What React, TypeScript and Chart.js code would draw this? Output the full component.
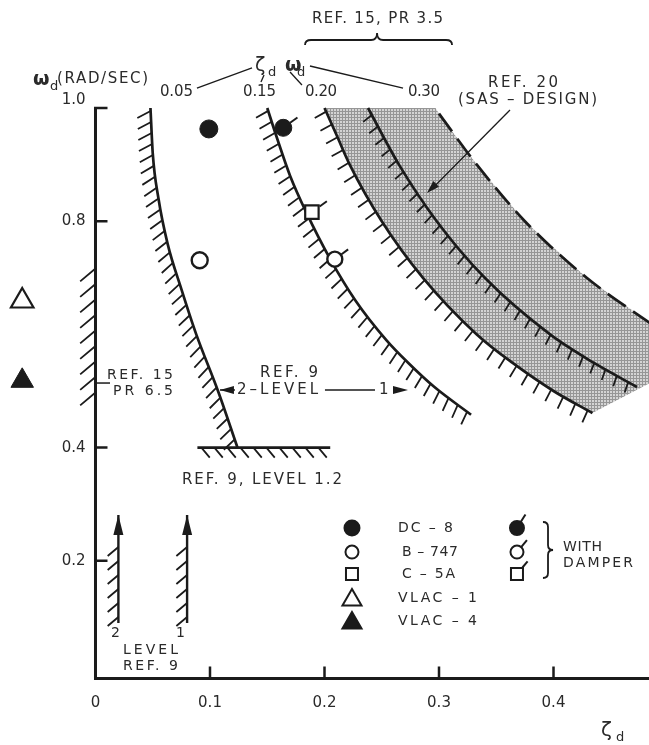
import React, { useEffect, useRef } from 'react';
import { Chart, registerables } from 'chart.js';

Chart.register(...registerables);

// ---------------- axes (ζd horizontal, ωd vertical) ----------------
const X_MIN = -0.0834;
const X_MAX = 0.4834;
const Y_MIN = -0.1254;
const Y_MAX = 1.1908;
const X_AXIS_AT = -0.008;

const xTickValues = [0, 0.1, 0.2, 0.3, 0.4];
const xTickLabels = ['0', '0.1', '0.2', '0.3', '0.4'];
const yTickValues = [1.0, 0.8, 0.4, 0.2];
const yTickLabels = ['1.0', '0.8', '0.4', '0.2'];

// ---------------- boundaries (ζd , ωd) ----------------
// Ref. 9, level 2 boundary (ζd·ωd ≈ 0.05)
const level2Zeta = [0.048, 0.050, 0.055, 0.063, 0.075, 0.088, 0.107, 0.124];
const level2Omega = [1.0, 0.92, 0.84, 0.76, 0.68, 0.60, 0.50, 0.40];
// Ref. 9, level 1 boundary (ζd·ωd ≈ 0.15)
const level1Zeta = [0.150, 0.158, 0.170, 0.184, 0.205, 0.227, 0.254, 0.273, 0.296, 0.328];
const level1Omega = [1.0, 0.95, 0.88, 0.816, 0.733, 0.66, 0.59, 0.55, 0.507, 0.458];
// Ref. 15, PR 3.5 lower boundary (ζd·ωd ≈ 0.20)
const ref15Zeta = [0.200, 0.211, 0.222, 0.250, 0.286, 0.333, 0.364, 0.400, 0.434];
const ref15Omega = [1.0, 0.95, 0.9, 0.8, 0.7, 0.6, 0.55, 0.5, 0.461];
// Ref. 20 SAS design line
const sasZeta = [0.238, 0.265, 0.298, 0.340, 0.397, 0.435, 0.473];
const sasOmega = [1.0, 0.9, 0.8, 0.7, 0.6, 0.55, 0.507];
// Ref. 15 upper (dashed, ζd·ωd ≈ 0.30)
const upperZeta = [0.300, 0.333, 0.375, 0.429, 0.490];
const upperOmega = [0.99, 0.9, 0.8, 0.7, 0.612];
// shaded band outline
const bandZeta = [...ref15Zeta, 0.490, 0.490, 0.429, 0.375, 0.333, 0.300, 0.297];
const bandOmega = [...ref15Omega, 0.520, 0.612, 0.7, 0.8, 0.9, 0.99, 1.0];
// Ref. 9, level 1.2 floor
const floorZeta = [0.089, 0.205];
const floorOmega = [0.4, 0.4];
// Ref. 9 level bars at the bottom
const bar2Zeta = [0.02, 0.02];
const bar1Zeta = [0.08, 0.08];
const barOmega = [0.281, 0.09];
// Ref. 15, PR 6.5 (ζd = 0)
const pr65Zeta = [0, 0];
const pr65Omega = [0.72, 0.475];

// ---------------- aircraft ----------------
const dc8Zeta = [0.099];
const dc8Omega = [0.963];
const dc8DamperZeta = [0.164];
const dc8DamperOmega = [0.965];
const b747Zeta = [0.091];
const b747Omega = [0.731];
const b747DamperZeta = [0.209];
const b747DamperOmega = [0.733];
const c5aDamperZeta = [0.189];
const c5aDamperOmega = [0.816];
const vlac1Zeta = [-0.064];
const vlac1Omega = [0.659];
const vlac4Zeta = [-0.064];
const vlac4Omega = [0.518];

const legendNames = ['DC – 8', 'B – 747', 'C – 5A', 'VLAC – 1', 'VLAC – 4'];

const INK = '#1b1b1b';
const TEXT = '#2a2a2a';
const FONT = '"DejaVu Sans", "Liberation Sans", sans-serif';

// text annotations in data coordinates (ζd, ωd): left edge, middle line
type Lbl = { t: string; x: number; y: number; size: number; w?: number; bold?: boolean; align?: string };
const labels: Lbl[] = [
  { t: 'REF. 15, PR 3.5', x: 0.1891, y: 1.1572, size: 15, w: 131 },
  { t: 'REF. 20', x: 0.3428, y: 1.0442, size: 15, w: 70 },
  { t: '(SAS – DESIGN)', x: 0.3166, y: 1.0141, size: 15, w: 139 },
  { t: '0.05', x: 0.0563, y: 1.0283, size: 15, w: 33 },
  { t: '0.15', x: 0.1288, y: 1.0283, size: 15, w: 33 },
  { t: '0.20', x: 0.1830, y: 1.0283, size: 15, w: 32 },
  { t: '0.30', x: 0.2729, y: 1.0283, size: 15, w: 32 },
  { t: '(RAD/SEC)', x: -0.0336, y: 1.0512, size: 15, w: 91 },
  { t: 'REF. 9', x: 0.1437, y: 0.5318, size: 15, w: 58 },
  { t: '2–LEVEL', x: 0.1236, y: 0.5018, size: 15, w: 81 },
  { t: '1', x: 0.2476, y: 0.5018, size: 15 },
  { t: 'REF. 9, LEVEL 1.2', x: 0.0755, y: 0.3428, size: 15, w: 160 },
  { t: 'REF. 15', x: 0.0100, y: 0.5283, size: 14, w: 66 },
  { t: 'PR 6.5', x: 0.0153, y: 0.5000, size: 14, w: 60 },
  { t: '2', x: 0.0135, y: 0.0724, size: 14 },
  { t: '1', x: 0.0703, y: 0.0724, size: 14 },
  { t: 'LEVEL', x: 0.0240, y: 0.0424, size: 14, w: 55 },
  { t: 'REF. 9', x: 0.0240, y: 0.0141, size: 14, w: 55 },
  { t: 'WITH', x: 0.4083, y: 0.2244, size: 14, w: 39 },
  { t: 'DAMPER', x: 0.4083, y: 0.1961, size: 14, w: 70 },
  { t: 'ζ', x: 0.1393, y: 1.0742, size: 19 },
  { t: 'd', x: 0.1506, y: 1.0618, size: 13 },
  { t: 'ω', x: 0.1655, y: 1.0742, size: 19, bold: true },
  { t: 'd', x: 0.1760, y: 1.0618, size: 13 },
  { t: 'ω', x: -0.0546, y: 1.0495, size: 19, bold: true },
  { t: 'd', x: -0.0397, y: 1.0371, size: 13 },
  { t: 'ζ', x: 0.4415, y: -0.1007, size: 20 },
  { t: 'd', x: 0.4546, y: -0.1131, size: 13 },
];
const legendX = 0.2240;
const legendTextX = [0.2642, 0.2677, 0.2677, 0.2642, 0.2642];
const legendOmega = [0.2580, 0.2155, 0.1767, 0.1343, 0.0936];
const damperX = 0.3681;

const zip = (xs: number[], ys: number[]) => xs.map((x, i) => ({ x, y: ys[i] }));

type Pt = { x: number; y: number };

function densify(els: any[]): Pt[] {
  const out: Pt[] = [];
  for (let i = 0; i < els.length; i++) {
    const p = els[i];
    if (i === 0) { out.push({ x: p.x, y: p.y }); continue; }
    const a = els[i - 1];
    const ok = Number.isFinite(a.cp2x) && Number.isFinite(p.cp1x);
    const N = 16;
    for (let k = 1; k <= N; k++) {
      const t = k / N, u = 1 - t;
      if (ok) {
        out.push({
          x: u * u * u * a.x + 3 * u * u * t * a.cp2x + 3 * u * t * t * p.cp1x + t * t * t * p.x,
          y: u * u * u * a.y + 3 * u * u * t * a.cp2y + 3 * u * t * t * p.cp1y + t * t * t * p.y,
        });
      } else out.push({ x: a.x + (p.x - a.x) * t, y: a.y + (p.y - a.y) * t });
    }
  }
  return out;
}

function drawHatch(ctx: CanvasRenderingContext2D, pts: Pt[], h: any) {
  const cum = [0];
  for (let i = 1; i < pts.length; i++) cum.push(cum[i - 1] + Math.hypot(pts[i].x - pts[i - 1].x, pts[i].y - pts[i - 1].y));
  const total = cum[cum.length - 1];
  const start = h.start ?? 3;
  const end = total - (h.end ?? 2);
  ctx.save();
  ctx.strokeStyle = INK;
  ctx.lineWidth = h.width ?? 1.8;
  ctx.lineCap = 'butt';
  ctx.beginPath();
  let j = 1;
  for (let s = start; s <= end; s += h.spacing) {
    while (j < cum.length - 1 && cum[j] < s) j++;
    const a = pts[j - 1], b = pts[j];
    const segLen = cum[j] - cum[j - 1] || 1;
    const t = (s - cum[j - 1]) / segLen;
    const px = a.x + (b.x - a.x) * t, py = a.y + (b.y - a.y) * t;
    const dx = (b.x - a.x) / segLen, dy = (b.y - a.y) / segLen;
    const ang = Math.atan2(dx, -dy) - (h.offset * Math.PI) / 180;
    ctx.moveTo(px, py);
    ctx.lineTo(px + h.len * Math.cos(ang), py + h.len * Math.sin(ang));
  }
  ctx.stroke();
  ctx.restore();
}

function arrowHead(ctx: CanvasRenderingContext2D, tx: number, ty: number, fx: number, fy: number, len: number, hw: number) {
  const d = Math.hypot(tx - fx, ty - fy) || 1;
  const ux = (tx - fx) / d, uy = (ty - fy) / d;
  const bx = tx - ux * len, by = ty - uy * len;
  ctx.beginPath();
  ctx.moveTo(tx, ty);
  ctx.lineTo(bx - uy * hw, by + ux * hw);
  ctx.lineTo(bx + uy * hw, by - ux * hw);
  ctx.closePath();
  ctx.fill();
}

function drawText(ctx: CanvasRenderingContext2D, l: Lbl, x: number, y: number) {
  ctx.save();
  ctx.font = `${l.bold ? 'bold ' : ''}${l.size}px ${FONT}`;
  ctx.fillStyle = TEXT;
  ctx.textBaseline = 'middle';
  ctx.textAlign = 'left';
  (ctx as any).letterSpacing = '0px';
  const raw = ctx.measureText(l.t).width;
  let sp = 0;
  if (l.w && l.t.length > 1) sp = (l.w - raw) / (l.t.length - 1);
  (ctx as any).letterSpacing = `${sp}px`;
  const total = raw + sp * (l.t.length - 1);
  let left = x;
  if (l.align === 'center') left = x - total / 2;
  else if (l.align === 'right') left = x - total;
  ctx.fillText(l.t, left, y);
  ctx.restore();
}

function marker(ctx: CanvasRenderingContext2D, kind: string, x: number, y: number, s: number, filled: boolean) {
  ctx.save();
  ctx.strokeStyle = INK;
  ctx.fillStyle = filled ? INK : '#ffffff';
  ctx.lineWidth = 2;
  ctx.beginPath();
  if (kind === 'circle') ctx.arc(x, y, s, 0, Math.PI * 2);
  else if (kind === 'rect') ctx.rect(x - s, y - s, 2 * s, 2 * s);
  else {
    ctx.moveTo(x, y - s);
    ctx.lineTo(x + s * 0.866, y + s * 0.5);
    ctx.lineTo(x - s * 0.866, y + s * 0.5);
    ctx.closePath();
  }
  ctx.fill();
  ctx.stroke();
  ctx.restore();
}

function damperTick(ctx: CanvasRenderingContext2D, x: number, y: number, r: number, deg: number, len: number) {
  const a = (deg * Math.PI) / 180;
  ctx.save();
  ctx.strokeStyle = INK;
  ctx.lineWidth = 2;
  ctx.beginPath();
  ctx.moveTo(x + r * Math.cos(a), y + r * Math.sin(a));
  ctx.lineTo(x + (r + len) * Math.cos(a), y + (r + len) * Math.sin(a));
  ctx.stroke();
  ctx.restore();
}

const decor = {
  id: 'decor',
  afterDatasetDraw(chart: any, args: any) {
    const ds = chart.data.datasets[args.index];
    const ctx: CanvasRenderingContext2D = chart.ctx;
    const els = args.meta.data;
    if (ds.hatch) drawHatch(ctx, densify(els), ds.hatch);
    if (ds.arrowStart && els.length > 1) {
      ctx.save();
      ctx.fillStyle = INK;
      arrowHead(ctx, els[0].x, els[0].y, els[1].x, els[1].y, 20, 5);
      ctx.restore();
    }
    if (ds.damper) {
      for (const e of els) damperTick(ctx, e.x, e.y, ds.pointRadius, -36, 9);
    }
  },
  afterDatasetsDraw(chart: any) {
    const ctx: CanvasRenderingContext2D = chart.ctx;
    const xs = chart.scales.x, ys = chart.scales.y;
    const X = (v: number) => xs.getPixelForValue(v);
    const Y = (v: number) => ys.getPixelForValue(v);
    const x0 = X(0), yAx = Y(X_AXIS_AT);

    // axes
    ctx.save();
    ctx.strokeStyle = INK;
    ctx.lineWidth = 3;
    ctx.beginPath();
    ctx.moveTo(x0, Y(1.0));
    ctx.lineTo(x0, yAx);
    ctx.lineTo(chart.chartArea.right, yAx);
    ctx.stroke();
    ctx.lineWidth = 2.5;
    ctx.beginPath();
    yTickValues.forEach((v) => {
      ctx.moveTo(x0 - (v === 1.0 ? 1.5 : 0), Y(v));
      ctx.lineTo(x0 + 12, Y(v));
    });
    xTickValues.forEach((v) => {
      if (v === 0) return;
      ctx.moveTo(X(v), yAx);
      ctx.lineTo(X(v), yAx - 12);
    });
    ctx.stroke();
    ctx.restore();

    // tick labels
    ctx.save();
    ctx.font = `15px ${FONT}`;
    ctx.fillStyle = TEXT;
    ctx.textBaseline = 'middle';
    ctx.textAlign = 'right';
    yTickValues.forEach((v, i) => ctx.fillText(yTickLabels[i], x0 - 10, Y(v) - (v === 1.0 ? 8 : 0)));
    ctx.textAlign = 'center';
    xTickValues.forEach((v, i) => ctx.fillText(xTickLabels[i], X(v), yAx + 25));
    ctx.restore();

    // thin leader lines, braces, arrows
    ctx.save();
    ctx.strokeStyle = INK;
    ctx.fillStyle = INK;
    ctx.lineWidth = 1.3;
    const seg = (a: number, b: number, c: number, d: number) => {
      ctx.beginPath();
      ctx.moveTo(X(a), Y(b));
      ctx.lineTo(X(c), Y(d));
      ctx.stroke();
    };
    seg(0.0886, 1.0353, 0.1367, 1.0707);
    seg(0.1445, 1.0459, 0.1472, 1.0583);
    seg(0.1699, 1.0636, 0.1803, 1.0406);
    seg(0.1873, 1.0742, 0.2686, 1.0353);
    // Ref 20 arrow
    seg(0.362, 0.9965, 0.2935, 0.8565);
    arrowHead(ctx, X(0.2895), Y(0.8498), X(0.362), Y(0.9965), 13, 4);
    // Ref 15 PR 6.5 leader
    ctx.lineWidth = 1.5;
    seg(0, 0.5141, 0.0127, 0.5141);
    // level arrows
    arrowHead(ctx, X(0.1087), Y(0.5018), X(0.1218), Y(0.5018), 14, 4);
    seg(0.1087, 0.5018, 0.1218, 0.5018);
    seg(0.2004, 0.5018, 0.2441, 0.5018);
    arrowHead(ctx, X(0.2729), Y(0.5018), X(0.2590), Y(0.5018), 15, 4);
    // top brace
    ctx.lineWidth = 1.8;
    {
      const x1 = X(0.1830), x2 = X(0.3114), xm = X(0.2459);
      const yEnd = Y(1.1113), yBar = Y(1.1201), yPeak = Y(1.1325);
      const r = 6;
      ctx.beginPath();
      ctx.moveTo(x1, yEnd);
      ctx.quadraticCurveTo(x1, yBar, x1 + r, yBar);
      ctx.lineTo(xm - r, yBar);
      ctx.quadraticCurveTo(xm, yBar, xm, yPeak);
      ctx.quadraticCurveTo(xm, yBar, xm + r, yBar);
      ctx.lineTo(x2 - r, yBar);
      ctx.quadraticCurveTo(x2, yBar, x2, yEnd);
      ctx.stroke();
    }
    // legend brace
    {
      const x1 = X(0.3908), xb = X(0.3952), xt = X(0.3996);
      const y1 = Y(0.2686), y2 = Y(0.1696), ym = (y1 + y2) / 2, r = 5;
      ctx.beginPath();
      ctx.moveTo(x1, y1);
      ctx.quadraticCurveTo(xb, y1, xb, y1 + r);
      ctx.lineTo(xb, ym - r);
      ctx.quadraticCurveTo(xb, ym, xt, ym);
      ctx.quadraticCurveTo(xb, ym, xb, ym + r);
      ctx.lineTo(xb, y2 - r);
      ctx.quadraticCurveTo(xb, y2, x1, y2);
      ctx.stroke();
    }
    ctx.restore();

    // legend markers
    const lx = X(legendX), dx = X(damperX);
    marker(ctx, 'circle', lx, Y(legendOmega[0]), 7.5, true);
    marker(ctx, 'circle', lx, Y(legendOmega[1]), 6.5, false);
    marker(ctx, 'rect', lx, Y(legendOmega[2]), 6, false);
    marker(ctx, 'tri', lx, Y(legendOmega[3]) + 2, 11, false);
    marker(ctx, 'tri', lx, Y(legendOmega[4]) + 2, 11, true);
    marker(ctx, 'circle', dx, Y(legendOmega[0]), 7, true);
    damperTick(ctx, dx, Y(legendOmega[0]), 7, -58, 9);
    marker(ctx, 'circle', dx, Y(legendOmega[1]), 6.5, false);
    damperTick(ctx, dx, Y(legendOmega[1]), 6.5, -50, 9);
    marker(ctx, 'rect', dx, Y(legendOmega[2]), 6, false);
    damperTick(ctx, dx, Y(legendOmega[2]), 8.5, -50, 8);
    legendNames.forEach((n, i) =>
      drawText(ctx, { t: n, x: 0, y: 0, size: 14, w: [55, 56, 53, 79, 79][i] }, X(legendTextX[i]), Y(legendOmega[i]))
    );

    // labels
    labels.forEach((l) => drawText(ctx, l, X(l.x), Y(l.y)));
  },
};

export default function App() {
  const ref = useRef<HTMLCanvasElement>(null);
  useEffect(() => {
    const canvas = ref.current;
    if (!canvas) return;
    const c2 = canvas.getContext('2d');
    const tile = document.createElement('canvas');
    tile.width = 3;
    tile.height = 3;
    const g = tile.getContext('2d')!;
    g.fillStyle = '#d4d4d4';
    g.fillRect(0, 0, 3, 3);
    g.fillStyle = '#969696';
    g.fillRect(0, 0, 3, 1);
    g.fillRect(0, 0, 1, 3);
    const pattern: any = (c2 && c2.createPattern(tile, 'repeat')) || '#bcbcbc';

    const line = (label: string, zs: number[], ws: number[], extra: any = {}) => ({
      label,
      data: zip(zs, ws),
      showLine: true,
      pointRadius: 0,
      pointHoverRadius: 0,
      borderColor: INK,
      borderWidth: 2.7,
      backgroundColor: 'rgba(0,0,0,0)',
      fill: false,
      cubicInterpolationMode: 'monotone',
      ...extra,
    });
    const pts = (label: string, zs: number[], ws: number[], extra: any) => ({
      label,
      data: zip(zs, ws),
      showLine: false,
      pointBorderColor: INK,
      borderColor: INK,
      ...extra,
    });

    const datasets: any[] = [
      pts('DC-8', dc8Zeta, dc8Omega, { pointStyle: 'circle', pointRadius: 9, pointBackgroundColor: INK, pointBorderWidth: 1 }),
      pts('DC-8 damper', dc8DamperZeta, dc8DamperOmega, { pointStyle: 'circle', pointRadius: 8.5, pointBackgroundColor: INK, pointBorderWidth: 1, damper: true }),
      pts('B-747', b747Zeta, b747Omega, { pointStyle: 'circle', pointRadius: 8, pointBackgroundColor: '#fff', pointBorderWidth: 2.4 }),
      pts('B-747 damper', b747DamperZeta, b747DamperOmega, { pointStyle: 'circle', pointRadius: 7.5, pointBackgroundColor: '#fff', pointBorderWidth: 2.4, damper: true }),
      pts('C-5A damper', c5aDamperZeta, c5aDamperOmega, { pointStyle: 'rect', pointRadius: 9.5, pointBackgroundColor: '#fff', pointBorderWidth: 2.2, damper: true }),
      pts('VLAC-1', vlac1Zeta, vlac1Omega, { pointStyle: 'triangle', pointRadius: 13, pointBackgroundColor: '#fff', pointBorderWidth: 2.2 }),
      pts('VLAC-4', vlac4Zeta, vlac4Omega, { pointStyle: 'triangle', pointRadius: 13, pointBackgroundColor: INK, pointBorderWidth: 1 }),
      line('Level 2', level2Zeta, level2Omega, { hatch: { len: 15, spacing: 11, offset: 25, start: 3 } }),
      line('Level 1', level1Zeta, level1Omega, { hatch: { len: 14, spacing: 11.5, offset: 12, start: 3 } }),
      line('Ref 15 PR 3.5', ref15Zeta, ref15Omega, { hatch: { len: 13, spacing: 14, offset: 5, start: 4 } }),
      line('Ref 20 SAS', sasZeta, sasOmega, { hatch: { len: 11, spacing: 13, offset: 10, start: 8 } }),
      line('Ref 15 upper', upperZeta, upperOmega, { borderDash: [22, 9], borderWidth: 2.7 }),
      line('Level 1.2', floorZeta, floorOmega, { cubicInterpolationMode: 'default', tension: 0, hatch: { len: 13, spacing: 13, offset: 40, start: 4 } }),
      line('Level 2 bar', bar2Zeta, barOmega, { cubicInterpolationMode: 'default', tension: 0, borderWidth: 2.4, arrowStart: true, hatch: { len: 14, spacing: 14, offset: 40, start: 32 } }),
      line('Level 1 bar', bar1Zeta, barOmega, { cubicInterpolationMode: 'default', tension: 0, borderWidth: 2.4, arrowStart: true, hatch: { len: 14, spacing: 14, offset: 40, start: 32 } }),
      line('PR 6.5', pr65Zeta, pr65Omega, { cubicInterpolationMode: 'default', tension: 0, borderWidth: 0, borderColor: 'rgba(0,0,0,0)', hatch: { len: 20, spacing: 15.5, offset: 40, start: 2, width: 1.8 } }),
      {
        label: 'band',
        data: zip(bandZeta, bandOmega),
        showLine: true,
        pointRadius: 0,
        borderWidth: 0,
        borderColor: 'rgba(0,0,0,0)',
        backgroundColor: pattern,
        fill: 'shape',
        tension: 0,
      },
    ];

    const chart = new Chart(canvas, {
      type: 'scatter',
      data: { datasets },
      options: {
        responsive: false,
        animation: false,
        devicePixelRatio: 1,
        events: [],
        layout: { padding: 0, autoPadding: false },
        plugins: {
          legend: { display: false },
          tooltip: { enabled: false },
          title: { display: false },
        },
        scales: {
          x: { type: 'linear', min: X_MIN, max: X_MAX, display: false },
          y: { type: 'linear', min: Y_MIN, max: Y_MAX, display: false },
        },
      } as any,
      plugins: [decor as any],
    });
    return () => chart.destroy();
  }, []);

  return (
    <canvas
      ref={ref}
      width={649}
      height={745}
      style={{ position: 'absolute', left: 0, top: 0, width: 649, height: 745, background: '#fff' }}
    />
  );
}
